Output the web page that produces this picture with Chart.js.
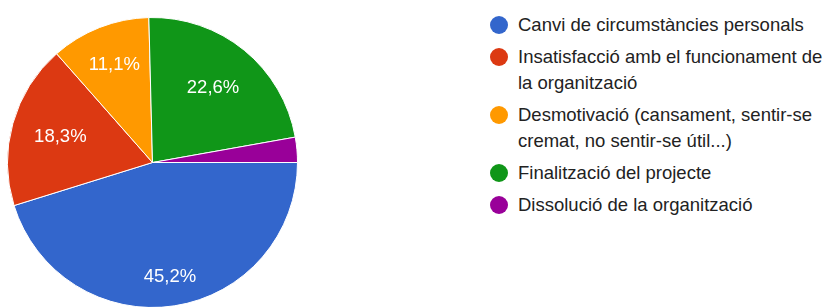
<!DOCTYPE html>
<html>
<head>
<meta charset="utf-8">
<script src="https://cdn.jsdelivr.net/npm/chart.js@4.4.1/dist/chart.umd.min.js"></script>
<style>
  html, body { margin: 0; padding: 0; background: #fff; overflow: hidden; }
  body { width: 835px; height: 307px; position: relative; font-family: "Liberation Sans", Arial, sans-serif; }
  #pieWrap { position: absolute; left: 7px; top: 17px; width: 291px; height: 291px; }
  #legend { position: absolute; left: 490px; top: 12px; width: 345px; list-style: none; margin: 0; padding: 0; }
  #legend li { position: relative; padding-left: 28px; margin-bottom: 6px; font-size: 18.5px; line-height: 26px; color: #222; }
  #legend li span.dot { position: absolute; left: 0; top: 4px; width: 18px; height: 18px; border-radius: 50%; }
</style>
</head>
<body>
<div id="pieWrap"><canvas id="pie"></canvas></div>
<ul id="legend"></ul>
<script>
// Dades del gràfic
const categories = [
    'Canvi de circumstàncies personals',
    'Insatisfacció amb el funcionament de la organització',
    'Desmotivació (cansament, sentir-se cremat, no sentir-se útil...)',
    'Finalització del projecte',
    'Dissolució de la organització'
];
const percentatges = [45.2, 18.3, 11.1, 22.6, 2.8];
const colors = ['#3366cc', '#dc3912', '#ff9900', '#109618', '#990099'];
// distancia relativa de l'etiqueta dins de cada porció
const labelRadius = [0.8, 0.66, 0.72, 0.66, 0.7];

// Etiquetes de percentatge dins les porcions
const sliceLabels = {
    id: 'sliceLabels',
    afterDatasetsDraw(chart) {
        const ctx = chart.ctx;
        const meta = chart.getDatasetMeta(0);
        const data = chart.data.datasets[0].data;
        const total = data.reduce((a, b) => a + b, 0);
        ctx.save();
        ctx.fillStyle = '#fff';
        ctx.font = '18.5px "Liberation Sans", Arial, sans-serif';
        ctx.textAlign = 'center';
        ctx.textBaseline = 'middle';
        meta.data.forEach((arc, i) => {
            const pct = data[i] / total * 100;
            if (pct < 5) return;
            const p = arc.getProps(['x', 'y', 'startAngle', 'endAngle', 'outerRadius'], true);
            const mid = (p.startAngle + p.endAngle) / 2;
            const r = p.outerRadius * labelRadius[i];
            ctx.fillText(pct.toFixed(1).replace('.', ',') + '%', p.x + Math.cos(mid) * r, p.y + Math.sin(mid) * r);
        });
        ctx.restore();
    }
};

const chart = new Chart(document.getElementById('pie'), {
    type: 'pie',
    data: {
        labels: categories,
        datasets: [{
            data: percentatges,
            backgroundColor: colors,
            borderColor: '#fff',
            borderWidth: 1
        }]
    },
    options: {
        responsive: true,
        maintainAspectRatio: false,
        animation: false,
        rotation: 90,
        layout: { padding: 0 },
        plugins: {
            legend: { display: false },
            tooltip: { enabled: false }
        }
    },
    plugins: [sliceLabels]
});

// Llegenda HTML
const legendEl = document.getElementById('legend');
chart.data.labels.forEach((label, i) => {
    const li = document.createElement('li');
    const dot = document.createElement('span');
    dot.className = 'dot';
    dot.style.background = chart.data.datasets[0].backgroundColor[i];
    li.appendChild(dot);
    li.appendChild(document.createTextNode(label));
    legendEl.appendChild(li);
});
</script>
</body>
</html>
